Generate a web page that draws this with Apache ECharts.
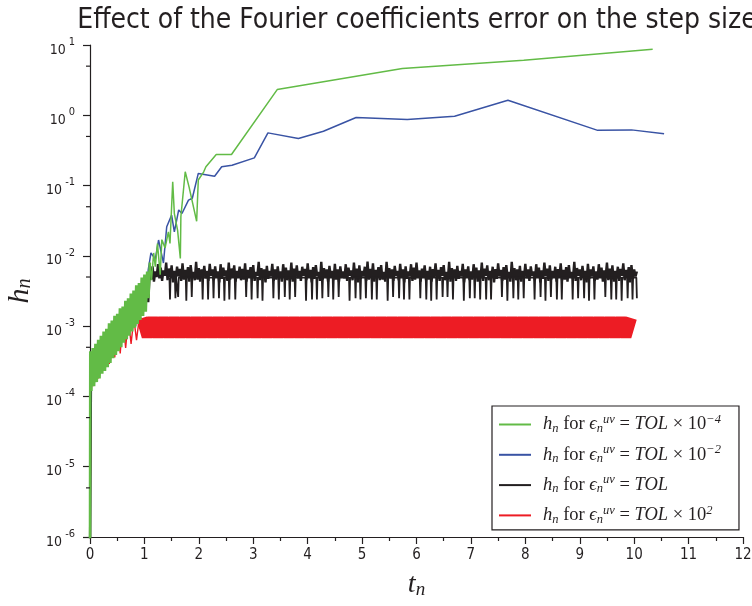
<!DOCTYPE html>
<html><head><meta charset="utf-8">
<script src="https://cdn.jsdelivr.net/npm/echarts@6/dist/echarts.min.js"></script>
<style>html,body{margin:0;padding:0;background:#fff}#c{width:752px;height:606px}</style>
</head><body><div id="c"></div>
<script>
const titleText = 'Effect of the Fourier coefficients error on the step size';
const xTickLabels = ['0','1','2','3','4','5','6','7','8','9','10','11','12'];
const yExpLabels = ['-6','-5','-4','-3','-2','-1','0','1'];
const yMinorTicks = [5e-6, 5e-5, 5e-4, 5e-3, 5e-2, 0.5, 5];
const seriesNames = ['TOL x 10^-4', 'TOL x 10^-2', 'TOL', 'TOL x 10^2'];
const legendExp = ['\u22124', '\u22122', '', '2'];
const seriesColors = ['#62bb46', '#3953a4', '#231f20', '#ed1c24'];

// eps = TOL x 1e-4 : dense initial growth
const greenRiseData = [
 [0,5e-7],[0.005,4.4e-4],[0.025,1.2e-4],[0.05,4.9e-4],[0.075,1.4e-4],[0.1,5.6e-4],[0.125,1.6e-4],[0.15,6.4e-4],[0.175,1.8e-4],[0.2,7.3e-4],
 [0.225,2.1e-4],[0.25,8.4e-4],[0.275,2.3e-4],[0.3,9.2e-4],[0.325,2.6e-4],[0.35,1.1e-3],[0.375,3.0e-4],[0.4,1.2e-3],[0.425,3.5e-4],[0.45,1.4e-3],
 [0.475,3.9e-4],[0.5,1.5e-3],[0.525,4.4e-4],[0.55,1.8e-3],[0.575,5.0e-4],[0.6,1.9e-3],[0.625,5.8e-4],[0.65,2.3e-3],[0.675,6.5e-4],[0.7,2.5e-3],
 [0.725,7.3e-4],[0.75,2.9e-3],[0.775,8.4e-4],[0.8,3.2e-3],[0.825,9.5e-4],[0.85,3.8e-3],[0.875,1.07e-3],[0.9,4.1e-3],[0.925,1.22e-3],[0.95,4.9e-3],
 [0.975,1.4e-3],[1.0,5.4e-3],[1.025,1.6e-3],[1.05,6.0e-3],[1.075,2.5e-3],[1.1,8e-3]
];
// eps = TOL x 1e-4 : large steps afterwards
const greenTailData = [
 [1.1,8e-3],[1.13,4.5e-3],[1.17,1.1e-2],[1.2,7e-3],[1.24,1.5e-2],
 [1.29,5.4e-3],[1.32,1.7e-2],[1.38,1.3e-2],[1.44,2.2e-2],[1.47,1.5e-2],[1.52,0.113],[1.55,0.04],[1.61,0.023],[1.66,9.2e-3],[1.67,0.036],
 [1.75,0.157],[1.82,0.096],[1.96,0.031],[1.99,0.12],[2.09,0.157],[2.13,0.185],[2.32,0.277],[2.60,0.277],[3.44,2.32],[5.74,4.62],
 [7.97,6.07],[10.34,8.7]
];
// eps = TOL x 1e-2
const blueData = [
 [0,5e-7],[0.01,4.0e-4],[0.05,1.55e-4],[0.1,4.9e-4],[0.15,2.0e-4],[0.2,6.3e-4],[0.25,2.5e-4],[0.3,8.1e-4],[0.35,3.3e-4],[0.4,1.05e-3],
 [0.45,4.2e-4],[0.5,1.35e-3],[0.55,5.4e-4],[0.6,1.7e-3],[0.65,7.0e-4],[0.7,2.2e-3],[0.75,9.0e-4],[0.8,2.8e-3],[0.85,1.15e-3],[0.9,3.6e-3],
 [0.95,1.5e-3],[1.0,4.6e-3],[1.03,2.0e-3],[1.07,6.3e-3],[1.12,1.1e-2],[1.2,9e-3],[1.26,1.68e-2],[1.35,7.9e-3],[1.41,2.6e-2],[1.5,3.8e-2],
 [1.55,2.2e-2],[1.63,4.5e-2],[1.69,4.0e-2],[1.81,6.2e-2],[1.88,6.6e-2],[1.99,0.149],[2.29,0.136],[2.42,0.185],[2.61,0.195],[3.02,0.248],
 [3.27,0.562],[3.83,0.468],[4.29,0.594],[4.89,0.93],[5.83,0.87],[6.70,0.97],[7.68,1.64],[9.33,0.61],[9.95,0.62],[10.55,0.545]
];
// eps = TOL : growth and oscillating body
const blackData = [
 [0,5e-7],[0.02,3.8e-4],[0.06,1.75e-4],[0.11,4.7e-4],[0.16,2.3e-4],[0.21,6.1e-4],[0.26,2.9e-4],[0.31,7.8e-4],[0.36,3.8e-4],[0.41,1.0e-3],
 [0.46,4.8e-4],[0.51,1.3e-3],[0.56,6.3e-4],[0.61,1.65e-3],[0.66,8.1e-4],[0.71,2.1e-3],[0.76,1.05e-3],[0.81,2.7e-3],[0.83,1.0e-3],[0.86,3.3e-3],
 [0.91,1.5e-3],[0.96,4.1e-3],[1.0,1.9e-3],[1.04,5.2e-3],[1.07,2.2e-3],
 [1.100,6.4e-3],[1.125,4.6e-3],[1.150,7.1e-3],[1.175,4.3e-3],[1.200,6.0e-3],[1.225,5.0e-3],[1.250,7.6e-3],[1.275,4.8e-3],
 [1.300,6.8e-3],[1.325,4.4e-3],[1.350,6.2e-3],[1.375,5.2e-3],[1.400,8.0e-3],[1.425,4.5e-3],[1.450,6.6e-3],[1.475,4.9e-3],
 [1.500,7.3e-3],[1.525,4.2e-3],[1.550,6.1e-3],[1.575,4.7e-3],[1.600,7.0e-3],[1.625,5.1e-3],[1.650,6.5e-3],[1.675,4.4e-3],
 [1.700,7.8e-3],[1.725,4.6e-3],[1.750,6.3e-3],[1.775,4.9e-3],[1.800,6.9e-3],[1.825,4.3e-3],[1.850,7.4e-3],[1.875,5.0e-3],
 [1.900,5.9e-3],[1.925,4.5e-3],[1.950,8.2e-3],[1.975,4.6e-3],[2.000,6.7e-3],[2.025,4.3e-3],[2.050,6.4e-3],[2.075,5.0e-3],
 [2.100,7.2e-3],[2.125,4.8e-3],[2.150,6.1e-3],[2.175,4.4e-3],[2.200,7.7e-3],[2.225,5.2e-3],[2.250,6.4e-3],[2.275,4.5e-3],
 [2.300,7.1e-3],[2.325,4.9e-3],[2.350,6.0e-3],[2.375,4.2e-3],[2.400,7.6e-3],[2.425,4.7e-3],[2.450,6.8e-3],[2.475,5.1e-3],
 [2.500,6.2e-3],[2.525,4.4e-3],[2.550,8.0e-3],[2.575,4.6e-3],[2.600,6.6e-3],[2.625,4.9e-3],[2.650,7.3e-3],[2.675,4.3e-3],
 [2.700,6.1e-3],[2.725,5.0e-3],[2.750,7.0e-3],[2.775,4.5e-3],[2.800,6.5e-3],[2.825,4.6e-3],[2.850,7.8e-3],[2.875,4.3e-3],
 [2.900,6.3e-3],[2.925,5.0e-3],[2.950,6.9e-3],[2.975,4.8e-3],[3.000,7.4e-3],[3.025,4.4e-3],[3.050,5.9e-3],[3.075,5.2e-3],
 [3.100,8.2e-3],[3.125,4.5e-3],[3.150,6.7e-3],[3.175,4.9e-3],[3.200,6.4e-3],[3.225,4.2e-3],[3.250,7.2e-3],[3.275,4.7e-3],
 [3.300,6.1e-3],[3.325,5.1e-3],[3.350,7.7e-3],[3.375,4.4e-3],[3.400,6.4e-3],[3.425,4.6e-3],[3.450,7.1e-3],[3.475,4.9e-3],
 [3.500,6.0e-3],[3.525,4.3e-3],[3.550,7.6e-3],[3.575,5.0e-3],[3.600,6.8e-3],[3.625,4.5e-3],[3.650,6.2e-3],[3.675,4.6e-3],
 [3.700,8.0e-3],[3.725,4.3e-3],[3.750,6.6e-3],[3.775,5.0e-3],[3.800,7.3e-3],[3.825,4.8e-3],[3.850,6.1e-3],[3.875,4.4e-3],
 [3.900,7.0e-3],[3.925,5.2e-3],[3.950,6.5e-3],[3.975,4.5e-3],[4.000,7.8e-3],[4.025,4.9e-3],[4.050,6.3e-3],[4.075,4.2e-3],
 [4.100,6.9e-3],[4.125,4.7e-3],[4.150,7.4e-3],[4.175,5.1e-3],[4.200,5.9e-3],[4.225,4.4e-3],[4.250,8.2e-3],[4.275,4.6e-3],
 [4.300,6.7e-3],[4.325,4.9e-3],[4.350,6.4e-3],[4.375,4.3e-3],[4.400,7.2e-3],[4.425,5.0e-3],[4.450,6.1e-3],[4.475,4.5e-3],
 [4.500,7.7e-3],[4.525,4.6e-3],[4.550,6.4e-3],[4.575,4.3e-3],[4.600,7.1e-3],[4.625,5.0e-3],[4.650,6.0e-3],[4.675,4.8e-3],
 [4.700,7.6e-3],[4.725,4.4e-3],[4.750,6.8e-3],[4.775,5.2e-3],[4.800,6.2e-3],[4.825,4.5e-3],[4.850,8.0e-3],[4.875,4.9e-3],
 [4.900,6.6e-3],[4.925,4.2e-3],[4.950,7.3e-3],[4.975,4.7e-3],[5.000,6.1e-3],[5.025,5.1e-3],[5.050,7.0e-3],[5.075,4.4e-3],
 [5.100,8.3e-3],[5.125,4.6e-3],[5.150,6.5e-3],[5.175,4.9e-3],[5.200,7.8e-3],[5.225,4.3e-3],[5.250,6.3e-3],[5.275,5.0e-3],
 [5.300,6.9e-3],[5.325,4.5e-3],[5.350,7.4e-3],[5.375,4.6e-3],[5.400,5.9e-3],[5.425,4.3e-3],[5.450,8.2e-3],[5.475,5.0e-3],
 [5.500,6.7e-3],[5.525,4.8e-3],[5.550,6.4e-3],[5.575,4.4e-3],[5.600,7.2e-3],[5.625,5.2e-3],[5.650,6.1e-3],[5.675,4.5e-3],
 [5.700,7.7e-3],[5.725,4.9e-3],[5.750,6.4e-3],[5.775,4.2e-3],[5.800,7.1e-3],[5.825,4.7e-3],[5.850,6.0e-3],[5.875,5.1e-3],
 [5.900,7.6e-3],[5.925,4.4e-3],[5.950,6.8e-3],[5.975,4.6e-3],[6.000,8.0e-3],[6.025,4.9e-3],[6.050,6.2e-3],[6.075,4.3e-3],
 [6.100,6.6e-3],[6.125,5.0e-3],[6.150,7.3e-3],[6.175,4.5e-3],[6.200,6.1e-3],[6.225,4.6e-3],[6.250,7.0e-3],[6.275,4.3e-3],
 [6.300,6.5e-3],[6.325,5.0e-3],[6.350,7.8e-3],[6.375,4.8e-3],[6.400,6.3e-3],[6.425,4.4e-3],[6.450,6.9e-3],[6.475,5.2e-3],
 [6.500,7.4e-3],[6.525,4.5e-3],[6.550,5.9e-3],[6.575,4.6e-3],[6.600,8.2e-3],[6.625,4.3e-3],[6.650,6.7e-3],[6.675,5.0e-3],
 [6.700,6.4e-3],[6.725,4.4e-3],[6.750,7.2e-3],[6.775,4.7e-3],[6.800,6.1e-3],[6.825,5.1e-3],[6.850,7.7e-3],[6.875,4.2e-3],
 [6.900,6.4e-3],[6.925,4.9e-3],[6.950,7.1e-3],[6.975,4.5e-3],[7.000,6.0e-3],[7.025,4.6e-3],[7.050,7.6e-3],[7.075,5.0e-3],
 [7.100,6.8e-3],[7.125,4.3e-3],[7.150,6.2e-3],[7.175,4.8e-3],[7.200,8.0e-3],[7.225,4.4e-3],[7.250,6.6e-3],[7.275,5.2e-3],
 [7.300,7.3e-3],[7.325,4.5e-3],[7.350,6.1e-3],[7.375,4.9e-3],[7.400,7.0e-3],[7.425,4.2e-3],[7.450,6.5e-3],[7.475,4.7e-3],
 [7.500,7.8e-3],[7.525,5.1e-3],[7.550,6.3e-3],[7.575,4.4e-3],[7.600,6.9e-3],[7.625,4.6e-3],[7.650,7.4e-3],[7.675,4.9e-3],
 [7.700,5.9e-3],[7.725,4.3e-3],[7.750,8.2e-3],[7.775,5.0e-3],[7.800,6.7e-3],[7.825,4.5e-3],[7.850,6.4e-3],[7.875,4.6e-3],
 [7.900,7.2e-3],[7.925,4.3e-3],[7.950,6.1e-3],[7.975,5.0e-3],[8.000,7.7e-3],[8.025,4.8e-3],[8.050,6.4e-3],[8.075,4.4e-3],
 [8.100,7.1e-3],[8.125,5.2e-3],[8.150,6.0e-3],[8.175,4.5e-3],[8.200,7.6e-3],[8.225,4.9e-3],[8.250,6.8e-3],[8.275,4.2e-3],
 [8.300,6.2e-3],[8.325,4.7e-3],[8.350,8.0e-3],[8.375,5.1e-3],[8.400,6.6e-3],[8.425,4.4e-3],[8.450,7.3e-3],[8.475,4.6e-3],
 [8.500,6.1e-3],[8.525,4.9e-3],[8.550,7.0e-3],[8.575,4.3e-3],[8.600,6.5e-3],[8.625,5.0e-3],[8.650,7.8e-3],[8.675,4.5e-3],
 [8.700,6.3e-3],[8.725,4.6e-3],[8.750,6.9e-3],[8.775,4.3e-3],[8.800,7.4e-3],[8.825,5.0e-3],[8.850,5.9e-3],[8.875,4.8e-3],
 [8.900,8.2e-3],[8.925,4.4e-3],[8.950,6.7e-3],[8.975,5.2e-3],[9.000,6.4e-3],[9.025,4.5e-3],[9.050,7.2e-3],[9.075,4.9e-3],
 [9.100,6.1e-3],[9.125,4.2e-3],[9.150,7.7e-3],[9.175,4.7e-3],[9.200,6.4e-3],[9.225,5.1e-3],[9.250,7.1e-3],[9.275,4.4e-3],
 [9.300,6.0e-3],[9.325,4.6e-3],[9.350,7.6e-3],[9.375,4.9e-3],[9.400,6.8e-3],[9.425,4.3e-3],[9.450,6.2e-3],[9.475,5.0e-3],
 [9.500,8.0e-3],[9.525,4.5e-3],[9.550,6.6e-3],[9.575,4.6e-3],[9.600,7.3e-3],[9.625,4.3e-3],[9.650,6.1e-3],[9.675,4.8e-3],
 [9.700,7.0e-3],[9.725,4.4e-3],[9.750,6.5e-3],[9.775,5.2e-3],[9.800,7.8e-3],[9.825,4.5e-3],[9.850,6.3e-3],[9.875,4.9e-3],
 [9.900,6.9e-3],[9.925,4.2e-3],[9.950,7.4e-3],[9.975,4.7e-3],[10.000,6.4e-3],[10.025,5.1e-3],[10.050,6.0e-3]
];
// eps = TOL : rejected-step dips (spikes down from the body)
const blackDipData = [
 [1.46,4.9e-3],[1.47,2.4e-3],[1.48,4.9e-3],[1.56,4.9e-3],[1.57,2.5e-3],[1.58,4.9e-3],[1.61,4.9e-3],[1.62,2.6e-3],[1.63,4.9e-3],
 [1.76,4.9e-3],[1.77,2.3e-3],[1.78,4.9e-3],[1.86,4.9e-3],[1.87,2.6e-3],[1.88,4.9e-3],[2.06,4.9e-3],[2.07,2.4e-3],[2.08,4.9e-3],
 [2.16,4.9e-3],[2.17,2.4e-3],[2.18,4.9e-3],[2.26,4.9e-3],[2.27,2.5e-3],[2.28,4.9e-3],[2.36,4.9e-3],[2.37,2.5e-3],[2.38,4.9e-3],
 [2.46,4.9e-3],[2.47,2.3e-3],[2.48,4.9e-3],[2.55,4.9e-3],[2.56,2.4e-3],[2.57,4.9e-3],[2.66,4.9e-3],[2.67,2.4e-3],[2.68,4.9e-3],
 [2.86,4.9e-3],[2.87,2.6e-3],[2.88,4.9e-3],[2.96,4.9e-3],[2.97,2.4e-3],[2.98,4.9e-3],[3.07,4.9e-3],[3.08,2.5e-3],[3.09,4.9e-3],
 [3.16,4.9e-3],[3.17,2.3e-3],[3.18,4.9e-3],[3.36,4.9e-3],[3.37,2.5e-3],[3.38,4.9e-3],[3.46,4.9e-3],[3.47,2.4e-3],[3.48,4.9e-3],
 [3.57,4.9e-3],[3.58,2.6e-3],[3.59,4.9e-3],[3.66,4.9e-3],[3.67,2.4e-3],[3.68,4.9e-3],[3.76,4.9e-3],[3.77,2.6e-3],[3.78,4.9e-3],
 [3.96,4.9e-3],[3.97,2.3e-3],[3.98,4.9e-3],[4.07,4.9e-3],[4.08,2.4e-3],[4.09,4.9e-3],[4.16,4.9e-3],[4.17,2.4e-3],[4.18,4.9e-3],
 [4.26,4.9e-3],[4.27,2.5e-3],[4.28,4.9e-3],[4.37,4.9e-3],[4.38,2.6e-3],[4.39,4.9e-3],[4.46,4.9e-3],[4.47,2.4e-3],[4.48,4.9e-3],
 [4.56,4.9e-3],[4.57,2.6e-3],[4.58,4.9e-3],[4.76,4.9e-3],[4.77,2.3e-3],[4.78,4.9e-3],[4.87,4.9e-3],[4.88,2.5e-3],[4.89,4.9e-3],
 [4.96,4.9e-3],[4.97,2.4e-3],[4.98,4.9e-3],[5.06,4.9e-3],[5.07,2.5e-3],[5.08,4.9e-3],[5.17,4.9e-3],[5.18,2.4e-3],[5.19,4.9e-3],
 [5.26,4.9e-3],[5.27,2.4e-3],[5.28,4.9e-3],[5.46,4.9e-3],[5.47,2.3e-3],[5.48,4.9e-3],[5.56,4.9e-3],[5.57,2.6e-3],[5.58,4.9e-3],
 [5.67,4.9e-3],[5.68,2.5e-3],[5.69,4.9e-3],[5.76,4.9e-3],[5.77,2.4e-3],[5.78,4.9e-3],[5.86,4.9e-3],[5.87,2.4e-3],[5.88,4.9e-3],
 [6.06,4.9e-3],[6.07,2.5e-3],[6.08,4.9e-3],[6.17,4.9e-3],[6.18,2.4e-3],[6.19,4.9e-3],[6.26,4.9e-3],[6.27,2.3e-3],[6.28,4.9e-3],
 [6.36,4.9e-3],[6.37,2.4e-3],[6.38,4.9e-3],[6.47,4.9e-3],[6.48,2.6e-3],[6.49,4.9e-3],[6.56,4.9e-3],[6.57,2.6e-3],[6.58,4.9e-3],
 [6.66,4.9e-3],[6.67,2.4e-3],[6.68,4.9e-3],[6.86,4.9e-3],[6.87,2.3e-3],[6.88,4.9e-3],[6.97,4.9e-3],[6.98,2.5e-3],[6.99,4.9e-3],
 [7.06,4.9e-3],[7.07,2.5e-3],[7.08,4.9e-3],[7.16,4.9e-3],[7.17,2.4e-3],[7.18,4.9e-3],[7.27,4.9e-3],[7.28,2.4e-3],[7.29,4.9e-3],
 [7.36,4.9e-3],[7.37,2.4e-3],[7.38,4.9e-3],[7.56,4.9e-3],[7.57,2.6e-3],[7.58,4.9e-3],[7.66,4.9e-3],[7.67,2.3e-3],[7.68,4.9e-3],
 [7.77,4.9e-3],[7.78,2.5e-3],[7.79,4.9e-3],[7.86,4.9e-3],[7.87,2.4e-3],[7.88,4.9e-3],[7.96,4.9e-3],[7.97,2.5e-3],[7.98,4.9e-3],
 [8.16,4.9e-3],[8.17,2.4e-3],[8.18,4.9e-3],[8.27,4.9e-3],[8.28,2.6e-3],[8.29,4.9e-3],[8.36,4.9e-3],[8.37,2.3e-3],[8.38,4.9e-3],
 [8.46,4.9e-3],[8.47,2.6e-3],[8.48,4.9e-3],[8.57,4.9e-3],[8.58,2.4e-3],[8.59,4.9e-3],[8.66,4.9e-3],[8.67,2.4e-3],[8.68,4.9e-3],
 [8.86,4.9e-3],[8.87,2.4e-3],[8.88,4.9e-3],[8.96,4.9e-3],[8.97,2.5e-3],[8.98,4.9e-3],[9.07,4.9e-3],[9.08,2.5e-3],[9.09,4.9e-3],
 [9.16,4.9e-3],[9.17,2.3e-3],[9.18,4.9e-3],[9.26,4.9e-3],[9.27,2.4e-3],[9.28,4.9e-3],[9.46,4.9e-3],[9.47,2.6e-3],[9.48,4.9e-3],
 [9.57,4.9e-3],[9.58,2.4e-3],[9.59,4.9e-3],[9.66,4.9e-3],[9.67,2.4e-3],[9.68,4.9e-3],[9.76,4.9e-3],[9.77,2.3e-3],[9.78,4.9e-3],
 [9.87,4.9e-3],[9.88,2.5e-3],[9.89,4.9e-3],[9.96,4.9e-3],[9.97,2.4e-3],[9.98,4.9e-3],[10.04,4.9e-3],[10.05,2.5e-3]
];
// eps = TOL x 1e2 : initial growth
const redRiseData = [
 [0,5e-7],[0.015,3.8e-4],[0.055,1.4e-4],[0.105,4.8e-4],[0.155,1.8e-4],[0.205,6.2e-4],[0.255,2.3e-4],[0.305,8.0e-4],[0.355,2.9e-4],[0.405,1.05e-3],
 [0.455,3.6e-4],[0.505,1.3e-3],[0.555,4.1e-4],[0.605,1.3e-3],[0.655,4.9e-4],[0.705,1.3e-3],[0.755,5.6e-4],[0.805,1.3e-3],[0.855,6.3e-4],[0.905,1.3e-3],
 [0.95,1.3e-3]
];
// eps = TOL x 1e2 : oscillating plateau
const redBandData = [
 [0.95,1.3e-3],
 [1.05,7.1e-4],[1.15,1.3e-3],[1.25,7.1e-4],[1.35,1.3e-3],[1.45,7.1e-4],[1.55,1.3e-3],[1.65,7.1e-4],[1.75,1.3e-3],[1.85,7.1e-4],[1.95,1.3e-3],
 [2.05,7.1e-4],[2.15,1.3e-3],[2.25,7.1e-4],[2.35,1.3e-3],[2.45,7.1e-4],[2.55,1.3e-3],[2.65,7.1e-4],[2.75,1.3e-3],[2.85,7.1e-4],[2.95,1.3e-3],
 [3.05,7.1e-4],[3.15,1.3e-3],[3.25,7.1e-4],[3.35,1.3e-3],[3.45,7.1e-4],[3.55,1.3e-3],[3.65,7.1e-4],[3.75,1.3e-3],[3.85,7.1e-4],[3.95,1.3e-3],
 [4.05,7.1e-4],[4.15,1.3e-3],[4.25,7.1e-4],[4.35,1.3e-3],[4.45,7.1e-4],[4.55,1.3e-3],[4.65,7.1e-4],[4.75,1.3e-3],[4.85,7.1e-4],[4.95,1.3e-3],
 [5.05,7.1e-4],[5.15,1.3e-3],[5.25,7.1e-4],[5.35,1.3e-3],[5.45,7.1e-4],[5.55,1.3e-3],[5.65,7.1e-4],[5.75,1.3e-3],[5.85,7.1e-4],[5.95,1.3e-3],
 [6.05,7.1e-4],[6.15,1.3e-3],[6.25,7.1e-4],[6.35,1.3e-3],[6.45,7.1e-4],[6.55,1.3e-3],[6.65,7.1e-4],[6.75,1.3e-3],[6.85,7.1e-4],[6.95,1.3e-3],
 [7.05,7.1e-4],[7.15,1.3e-3],[7.25,7.1e-4],[7.35,1.3e-3],[7.45,7.1e-4],[7.55,1.3e-3],[7.65,7.1e-4],[7.75,1.3e-3],[7.85,7.1e-4],[7.95,1.3e-3],
 [8.05,7.1e-4],[8.15,1.3e-3],[8.25,7.1e-4],[8.35,1.3e-3],[8.45,7.1e-4],[8.55,1.3e-3],[8.65,7.1e-4],[8.75,1.3e-3],[8.85,7.1e-4],[8.95,1.3e-3],
 [9.05,7.1e-4],[9.15,1.3e-3],[9.25,7.1e-4],[9.35,1.3e-3],[9.45,7.1e-4],[9.55,1.3e-3],[9.65,7.1e-4],[9.75,1.3e-3],[9.85,7.1e-4],[9.95,1.3e-3]
];

const SANS = "'Liberation Sans Narrow','DejaVu Sans Condensed','DejaVu Sans',sans-serif";
const SERIF = "'Liberation Serif','DejaVu Serif',serif";
const INK = '#231f20';

function legendText(name) {
  const i = seriesNames.indexOf(name);
  let s = '{m0|h}{sub|n}{r| for }{m|\u03f5}{sub|n}{sup|uv}{r| = }{m|TOL}';
  if (legendExp[i]) s += '{r| \u00d7 10}{sup|' + legendExp[i] + '}';
  return s;
}

const chart = echarts.init(document.getElementById('c'), null, {renderer: 'canvas'});
const lineBase = {type: 'line', showSymbol: false, symbol: 'none', animation: false, silent: true};
function lineSeries(idx, data, width, z, extra) {
  return Object.assign({}, lineBase, {
    name: seriesNames[idx], data: data, z: z,
    lineStyle: Object.assign({color: seriesColors[idx], width: width}, extra || {}),
    itemStyle: {color: seriesColors[idx]}
  });
}
chart.setOption({
  animation: false,
  backgroundColor: '#fff',
  title: {
    text: titleText, left: 412, top: 2, textAlign: 'center',
    textStyle: {fontFamily: SANS, fontSize: 28, fontWeight: 'normal', color: INK}
  },
  grid: {left: 90, right: 9, top: 45, bottom: 69, containLabel: false, outerBoundsMode: 'none'},
  legend: {
    data: seriesNames, left: 492, top: 406, orient: 'vertical',
    backgroundColor: '#fff', borderColor: INK, borderWidth: 1.2,
    padding: [5, 18, 1, 7], itemGap: 3.3, itemWidth: 32, itemHeight: 2,
    icon: 'rect', selectedMode: false,
    formatter: legendText,
    textStyle: {
      color: INK,
      rich: {
        m0: {fontFamily: SERIF, fontStyle: 'italic', fontSize: 18.5, lineHeight: 18, padding: [4, 0, 4, 7], color: INK},
        m: {fontFamily: SERIF, fontStyle: 'italic', fontSize: 18.5, lineHeight: 18, padding: [4, 0, 4, 0], color: INK},
        r: {fontFamily: SERIF, fontSize: 18.5, lineHeight: 18, padding: [4, 0, 4, 0], color: INK},
        sub: {fontFamily: SERIF, fontStyle: 'italic', fontSize: 12.5, lineHeight: 12, padding: [8, 0, 0, 0], color: INK},
        sup: {fontFamily: SERIF, fontStyle: 'italic', fontSize: 12.5, lineHeight: 12, padding: [0, 0, 10, 0], color: INK}
      }
    }
  },
  xAxis: {
    type: 'value', min: 0, max: 12, interval: 1,
    name: '{t|t}{n|n}', nameLocation: 'middle', nameGap: 34,
    nameTextStyle: {
      rich: {
        t: {fontFamily: SERIF, fontStyle: 'italic', fontSize: 28, lineHeight: 28, color: INK},
        n: {fontFamily: SERIF, fontStyle: 'italic', fontSize: 19, lineHeight: 19, padding: [10, 0, 0, 0], color: INK}
      }
    },
    axisLine: {lineStyle: {color: INK, width: 1.2}},
    axisTick: {show: true, inside: false, length: 7, lineStyle: {color: INK, width: 1.2}},
    minorTick: {show: true, splitNumber: 2, length: 4, lineStyle: {color: INK, width: 1.2}},
    splitLine: {show: false},
    axisLabel: {
      margin: 11, fontFamily: SANS, fontSize: 15, color: INK,
      formatter: v => xTickLabels[Math.round(v)]
    }
  },
  yAxis: {
    type: 'log', logBase: 10, min: 1e-6, max: 10, interval: 1, splitNumber: 7,
    name: '{h|h}{n|n}', nameLocation: 'middle', nameGap: 52,
    nameTextStyle: {
      rich: {
        h: {fontFamily: SERIF, fontStyle: 'italic', fontSize: 30, lineHeight: 30, color: INK},
        n: {fontFamily: SERIF, fontStyle: 'italic', fontSize: 20, lineHeight: 20, padding: [10, 0, 0, 0], color: INK}
      }
    },
    axisLine: {show: true, lineStyle: {color: INK, width: 1.2}},
    axisTick: {show: true, inside: false, length: 7, lineStyle: {color: INK, width: 1.2}},
    splitLine: {show: false},
    axisLabel: {
      margin: 15,
      formatter: v => '{b|10}{s|' + yExpLabels[Math.round(Math.log10(v)) + 6] + '}',
      rich: {
        b: {fontFamily: SANS, fontSize: 14, lineHeight: 14, padding: [10, 0, 0, 0], color: INK},
        s: {fontFamily: SANS, fontSize: 11, lineHeight: 12, padding: [0, 0, 6, 3], color: INK}
      }
    }
  },
  series: [
    lineSeries(3, redRiseData, 1.4, 2),
    lineSeries(3, redBandData, 11, 2, {join: 'bevel', cap: 'butt'}),
    lineSeries(2, blackData, 2.4, 3, {join: 'bevel'}),
    lineSeries(2, blackDipData, 1.8, 3, {join: 'bevel'}),
    lineSeries(1, blueData, 1.5, 4),
    lineSeries(0, greenRiseData, 2.6, 5, {join: 'bevel'}),
    lineSeries(0, greenTailData, 1.5, 5),
    {
      type: 'custom', name: 'yMinor', silent: true, animation: false, clip: false, z: 6,
      data: yMinorTicks.map(v => [0, v]),
      renderItem: (params, api) => {
        const p = api.coord([0, api.value(1)]);
        return {type: 'line', shape: {x1: p[0] - 4, y1: p[1], x2: p[0], y2: p[1]},
                style: {stroke: INK, lineWidth: 1.2}};
      }
    }
  ]
});
</script>
</body></html>
